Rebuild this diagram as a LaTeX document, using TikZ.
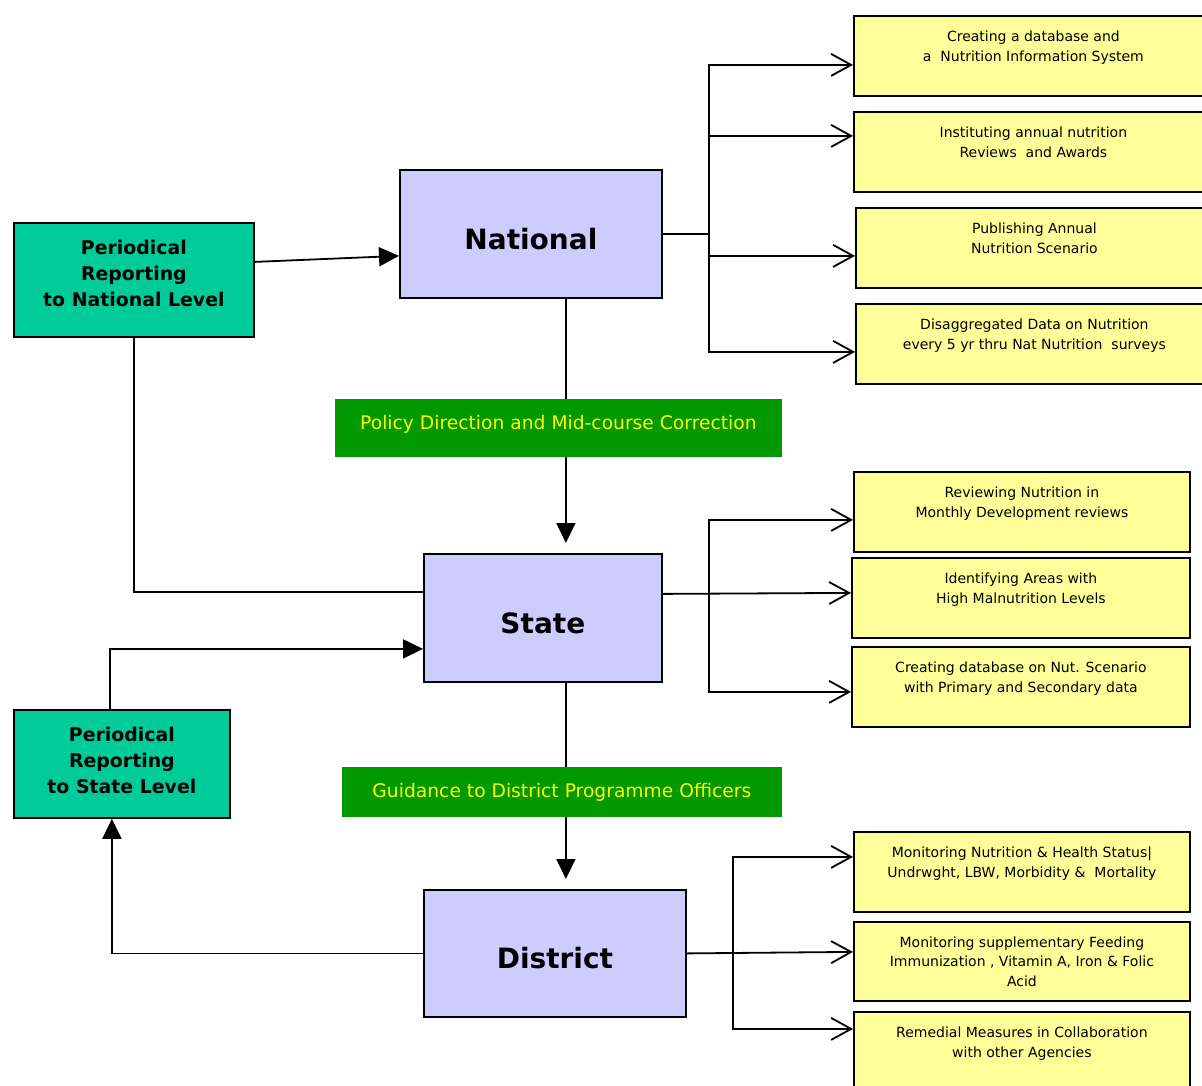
\documentclass[tikz,border=0pt]{standalone}
\usepackage{fontspec}
\setmainfont{DejaVu Sans}
\usetikzlibrary{arrows.meta,calc}
\definecolor{ylw}{HTML}{FFFF99}
\definecolor{lav}{HTML}{CCCCFF}
\definecolor{tealbox}{HTML}{00CC99}
\definecolor{grn}{HTML}{009900}
\definecolor{txty}{HTML}{FFFF00}
\begin{document}
\begin{tikzpicture}[x=1pt,y=-1pt,line width=1.8pt,
  ybox/.style={draw,fill=ylw,align=center,anchor=north west,inner sep=0pt,
    font=\fontsize{14}{19.5}\selectfont,minimum height=80pt},
  lvl/.style={draw,fill=lav,anchor=north west,inner sep=0pt,
    text height=31pt,text depth=0pt,
    font=\fontsize{28}{32}\selectfont\bfseries},
  rep/.style={draw,fill=tealbox,anchor=north west,inner sep=0pt,align=center,
    font=\fontsize{18.9}{26}\selectfont\bfseries},
  glab/.style={fill=grn,text=txty,anchor=north west,inner sep=0pt,align=center,
    font=\fontsize{18.7}{20}\selectfont},
  oarr/.style={-{Straight Barb[length=20pt,width=22pt,line width=1.8pt]}},
  farr/.style={-{Triangle[length=20pt,width=19pt]}}]
\useasboundingbox (0,0) rectangle (1202,1086);

% national level
\node[lvl,minimum width=262pt,minimum height=128pt] (nat) at (399,169) {National};
\node[rep,minimum width=240pt,minimum height=114pt] (pn) at (13,222)
  {Periodical\\Reporting\\to National Level\\[-12pt]};
\node[ybox,minimum width=359pt] (y1) at (853,15)
  {Creating a database and\\a\ \ Nutrition Information System\\~};
\node[ybox,minimum width=359pt] (y2) at (853,111)
  {Instituting annual nutrition\\Reviews\ \ and Awards\\~};
\node[ybox,minimum width=357pt] (y3) at (855,207)
  {Publishing Annual\\Nutrition Scenario\\~};
\node[ybox,minimum width=357pt] (y4) at (855,303)
  {Disaggregated Data on Nutrition\\every 5 yr thru Nat Nutrition\ \ surveys\\~};

% state level
\node[lvl,minimum width=238pt,minimum height=128pt] (st) at (423,553) {State};
\node[rep,minimum width=216pt,minimum height=108pt] (ps) at (13,709)
  {Periodical\\Reporting\\to State Level\\[-18pt]};
\node[ybox,minimum width=336pt] (s1) at (853,471)
  {Reviewing Nutrition in\\Monthly Development reviews\\~};
\node[ybox,minimum width=338pt] (s2) at (851,557)
  {Identifying Areas with\\High Malnutrition Levels\\~};
\node[ybox,minimum width=338pt] (s3) at (851,646)
  {Creating database on Nut. Scenario\\with Primary and Secondary data\\~};

% district level
\node[lvl,minimum width=262pt,minimum height=127pt] (dis) at (423,889) {District};
\node[ybox,minimum width=336pt] (d1) at (853,831)
  {Monitoring Nutrition \& Health Status|\\Undrwght, LBW, Morbidity \&\ \ Mortality\\~};
\node[ybox,minimum width=336pt,minimum height=79pt] (d2) at (853,921)
  {Monitoring supplementary Feeding\\Immunization , Vitamin A, Iron \& Folic\\Acid};
\node[ybox,minimum width=336pt] (d3) at (853,1011)
  {Remedial Measures in Collaboration\\with other Agencies\\~};

% bus points
\coordinate (nb) at (709,231);
\coordinate (sb) at (709,593);
\coordinate (db) at (733,952);

% connectors, national
\draw[farr] ([yshift=18pt]pn.east) -- ([yshift=-22pt]nat.west);
\draw (nat.east) -- (nat.east -| nb);
\draw[oarr] (nb) |- ([yshift=-9pt]y1.west);
\draw[oarr] (nb) |- ([yshift=16pt]y2.west);
\draw[oarr] (nb) |- ([yshift=-8pt]y3.west);
\draw[oarr] (nb) |- ([yshift=-8pt]y4.west);
\draw (pn.south) |- ([yshift=26pt]st.west);
\draw[farr,shorten >=10pt] ([xshift=35pt]nat.south) -- ([xshift=23pt]st.north);

% connectors, state
\draw[oarr] ([yshift=24pt]st.east) -- ([yshift=5pt]s2.west);
\draw[oarr] (sb) |- ([yshift=-8pt]s1.west);
\draw[oarr] (sb) |- ([yshift=-5pt]s3.west);
\draw[farr] ([xshift=-12pt]ps.north) |- ([yshift=-31pt]st.west);
\draw[farr,shorten >=10pt] ([xshift=23pt]st.south) -- ([xshift=11pt]dis.north);

% connectors, district
\draw[oarr] (dis.east) -- ([yshift=9.5pt]d2.west);
\draw[oarr] (db) |- ([yshift=15pt]d1.west);
\draw[oarr] (db) |- ([yshift=23pt]d3.west);
\draw[farr] (dis.west) -| ([xshift=-10pt]ps.south);

% green labels over the vertical lines
\node[glab,minimum width=447pt,minimum height=58pt] (lab1) at (334,398)
  {Policy Direction and Mid-course Correction\\[-8pt]};
\node[glab,minimum width=440pt,minimum height=50pt] (lab2) at (341,766)
  {Guidance to District Programme Officers};
\end{tikzpicture}
\end{document}
